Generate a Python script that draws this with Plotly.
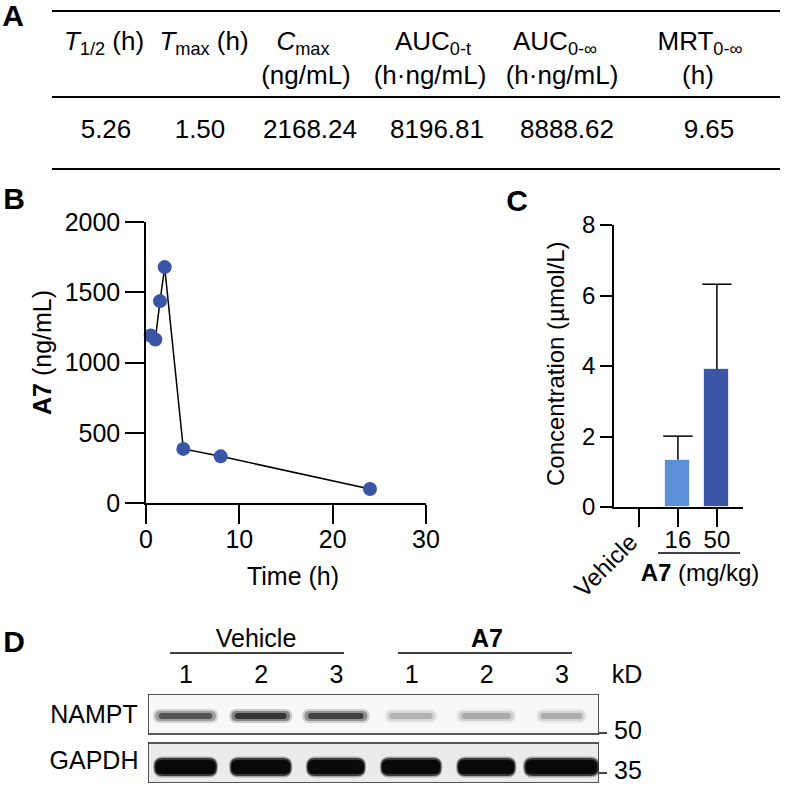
import plotly.graph_objects as go

# ---- data ----
# panel A: PK parameters
pk_headers = ["<i>T</i><sub>1/2</sub> (h)", "<i>T</i><sub>max</sub> (h)", "<i>C</i><sub>max</sub>",
              "AUC<sub>0-t</sub>", "AUC<sub>0-∞</sub>", "MRT<sub>0-∞</sub>"]
pk_units = ["", "", "(ng/mL)", "(h·ng/mL)", "(h·ng/mL)", "(h)"]
pk_values = [5.26, 1.50, 2168.24, 8196.81, 8888.62, 9.65]

# panel B: plasma concentration vs time
time_h = [0.5, 1, 1.5, 2, 4, 8, 24]
conc_ng = [1192, 1164, 1437, 1679, 385, 332, 100]

# panel C: tissue concentration
groups = ["Vehicle", "16", "50"]
conc_umol = [0, 1.34, 3.91]
conc_sd = [0, 0.67, 2.41]

# panel D: western blot band intensity (0 = none, 1 = saturated)
lanes = [1, 2, 3, 1, 2, 3]
nampt_level = [0.72, 0.97, 0.85, 0.25, 0.28, 0.27]
gapdh_level = [1.0, 0.98, 0.97, 0.98, 0.98, 1.0]
nampt_width = [0.87, 0.84, 0.9, 0.7, 0.8, 0.67]
gapdh_width = [0.86, 0.84, 0.8, 0.83, 0.8, 1.02]

W = H = 787
FONT = "Arial, Liberation Sans, sans-serif"
blue_dark = "#3a55a6"
blue_light = "#5b90d6"


def px(x):
    return x / W


def py(y):
    return 1 - y / H


# plain horizontal labels go into one text trace on a full-page pixel axis
# (annotations near the edges would push the margins)
txt, tx, ty, tsize = [], [], [], []
annotations = []
shapes = []


def label(text, x, y, size=24):
    txt.append(text)
    tx.append(x)
    ty.append(y)
    tsize.append(size)


def vlabel(text, x, y, size, angle, **kw):
    d = dict(text=text, x=px(x), y=py(y), xref="paper", yref="paper", showarrow=False,
             textangle=angle, xanchor="center", yanchor="middle",
             font=dict(size=size, color="black", family=FONT))
    d.update(kw)
    annotations.append(d)


def hline(x0, x1, y, width=1.5):
    shapes.append(dict(type="line", xref="paper", yref="paper", x0=px(x0), x1=px(x1),
                       y0=py(y), y1=py(y), line=dict(color="black", width=width)))


# panel letters
for letter, lx, ly in [("A", 13, 18), ("B", 14, 201), ("C", 517, 203), ("D", 14, 644)]:
    label("<b>%s</b>" % letter, lx, ly, size=30)

# ---- panel A table ----
for y in [11, 97, 169]:
    hline(52, 780, y, width=2)

head_x = [104, 204, 303, 433, 555, 700]
unit_x = [104, 204, 306, 430, 562, 698]
val_x = [106, 200, 310, 437, 567, 709]
for i in range(6):
    label(pk_headers[i], head_x[i], 43, size=26)
    if pk_units[i]:
        label(pk_units[i], unit_x[i], 77, size=26)
    label("%.2f" % pk_values[i], val_x[i], 131, size=26)

fig = go.Figure()

# ---- panel B ----
fig.add_trace(go.Scatter(
    x=time_h, y=conc_ng, mode="lines+markers",
    line=dict(color="black", width=1.5),
    marker=dict(size=14, color=blue_dark),
    cliponaxis=False, xaxis="x", yaxis="y", showlegend=False,
))
vlabel("<b>A7</b> (ng/mL)", 42, 353, 25, -90)
label("Time (h)", 293, 579, size=25)

# ---- panel C ----
fig.add_trace(go.Bar(
    x=groups, y=conc_umol, width=0.64,
    marker=dict(color=["white", blue_light, blue_dark], line=dict(color="rgba(255,255,255,0.7)", width=1)),
    xaxis="x2", yaxis="y2", showlegend=False,
))
# upper whiskers only (no cap at the bar top)
stem_x, stem_y, cap_x, cap_y = [], [], [], []
for g, m, s in zip(groups, conc_umol, conc_sd):
    if s > 0:
        stem_x += [g, g, None]
        stem_y += [m, m + s, None]
        cap_x.append(g)
        cap_y.append(m + s)
fig.add_trace(go.Scatter(x=stem_x, y=stem_y, mode="lines", line=dict(color="black", width=1.5),
                         xaxis="x2", yaxis="y2", showlegend=False, hoverinfo="skip"))
fig.add_trace(go.Scatter(x=cap_x, y=cap_y, mode="markers",
                         marker=dict(symbol="line-ew", size=21, line=dict(color="black", width=1.5)),
                         xaxis="x2", yaxis="y2", showlegend=False, cliponaxis=False))
vlabel("Concentration (µmol/L)", 555, 364, 24, -90)
annotations.append(dict(text="Vehicle", x="Vehicle", y=py(526), xref="x2", yref="paper", xshift=6,
                        showarrow=False, textangle=-45, xanchor="right", yanchor="top",
                        font=dict(size=24, color="black", family=FONT)))
hline(658, 740, 553)
label("<b>A7</b> (mg/kg)", 700, 575, size=24)

# ---- panel D: blot ----
label("Vehicle", 256, 641, size=25)
label("<b>A7</b>", 487, 641, size=25)
hline(170, 344, 653)
hline(398, 572, 653)
for i, n in enumerate(lanes):
    label(str(n), 186 + 75.2 * i, 677, size=25)
label("kD", 627, 677, size=25)
label("NAMPT", 94, 717, size=25)
label("GAPDH", 94, 763, size=25)
for y, kd in [(733, "50"), (773, "35")]:
    hline(599, 607, y, width=1.5)
    label(kd, 628, y, size=25)


def pill(xc, yc, w, h, r):
    # rounded band outline in lane units (x) and pixel units (y)
    rx = r / 75.0
    x0, x1 = xc - w / 2, xc + w / 2
    y0, y1 = yc - h / 2, yc + h / 2
    return ("M %f %f L %f %f Q %f %f %f %f L %f %f Q %f %f %f %f "
            "L %f %f Q %f %f %f %f L %f %f Q %f %f %f %f Z") % (
        x0 + rx, y0, x1 - rx, y0, x1, y0, x1, y0 + r, x1, y1 - r, x1, y1, x1 - rx, y1,
        x0 + rx, y1, x0, y1, x0, y1 - r, x0, y0 + r, x0, y0, x0 + rx, y0)


# blot backgrounds
shapes.append(dict(type="rect", xref="x3", yref="y3", x0=0.5, x1=6.5, y0=49, y1=89,
                   fillcolor="#f8f8f8", line=dict(color="#222", width=1.5), layer="below"))
shapes.append(dict(type="rect", xref="x3", yref="y3", x0=0.5, x1=6.5, y0=0, y1=40,
                   fillcolor="#ebebeb", line=dict(color="#222", width=1.5), layer="below"))

for i in range(6):
    lane = i + 1
    d = nampt_level[i]
    w = nampt_width[i]
    for sw, sh, a in [(1.0, 14, 0.2), (0.93, 10, 0.4), (0.82, 6, 0.75)]:
        shapes.append(dict(type="path", xref="x3", yref="y3", path=pill(lane, 67, w * sw, sh, sh / 2),
                           fillcolor="rgba(20,20,20,%.3f)" % (a * d), line=dict(width=0)))
    d = gapdh_level[i]
    w = gapdh_width[i]
    for sw, sh, a in [(1.0, 21, 0.3), (0.97, 18, 0.7), (0.93, 14, 1.0)]:
        shapes.append(dict(type="path", xref="x3", yref="y3", path=pill(lane, 16, w * sw, sh, sh / 2 - 1),
                           fillcolor="rgba(8,8,8,%.3f)" % (a * d), line=dict(width=0)))

fig.add_trace(go.Scatter(
    x=tx, y=ty, text=txt, mode="text", textposition="middle center",
    textfont=dict(size=tsize, color="black", family=FONT),
    cliponaxis=False, hoverinfo="skip", showlegend=False, xaxis="x4", yaxis="y4",
))

axis_common = dict(showline=True, linecolor="black", linewidth=1.5, showgrid=False, zeroline=False,
                   ticks="outside", tickwidth=1.5, tickcolor="black", automargin=False,
                   tickfont=dict(size=25, color="black", family=FONT))

fig.update_layout(
    width=W, height=H, margin=dict(l=0, r=0, t=0, b=0, pad=0), autosize=False,
    plot_bgcolor="rgba(0,0,0,0)", paper_bgcolor="white",
    font=dict(family=FONT, color="black"),
    xaxis=dict(axis_common, domain=[px(146), px(426)], range=[0, 30], tickvals=[0, 10, 20, 30],
               ticklen=19, ticklabelstandoff=-6, anchor="y"),
    yaxis=dict(axis_common, domain=[py(503), py(222)], range=[0, 2000],
               tickvals=[0, 500, 1000, 1500, 2000], ticklen=19, anchor="x"),
    xaxis2=dict(axis_common, domain=[px(614), px(743)], type="category", range=[-0.64, 2.67],
                tickmode="array", tickvals=groups, ticktext=["", "16", "50"], ticklen=18,
                ticklabelstandoff=-8, anchor="y2", tickfont=dict(size=24, color="black", family=FONT)),
    yaxis2=dict(axis_common, domain=[py(507), py(225)], range=[0, 8], tickvals=[0, 2, 4, 6, 8],
                ticklen=12, anchor="x2", tickfont=dict(size=24, color="black", family=FONT)),
    xaxis3=dict(domain=[px(148), px(599)], range=[0.5, 6.5], visible=False, anchor="y3", automargin=False),
    yaxis3=dict(domain=[py(783), py(694)], range=[0, 89], visible=False, anchor="x3", automargin=False),
    xaxis4=dict(domain=[0, 1], range=[0, W], visible=False, anchor="y4", automargin=False, fixedrange=True),
    yaxis4=dict(domain=[0, 1], range=[H, 0], visible=False, anchor="x4", automargin=False, fixedrange=True),
    annotations=annotations,
    shapes=shapes,
    bargap=0,
)

# page margin off so the 787px figure fills the window exactly
fig.write_html("out.html", config={"displayModeBar": False},
               post_script="document.body.style.margin='0';"
                           "document.documentElement.style.overflow='hidden';")
